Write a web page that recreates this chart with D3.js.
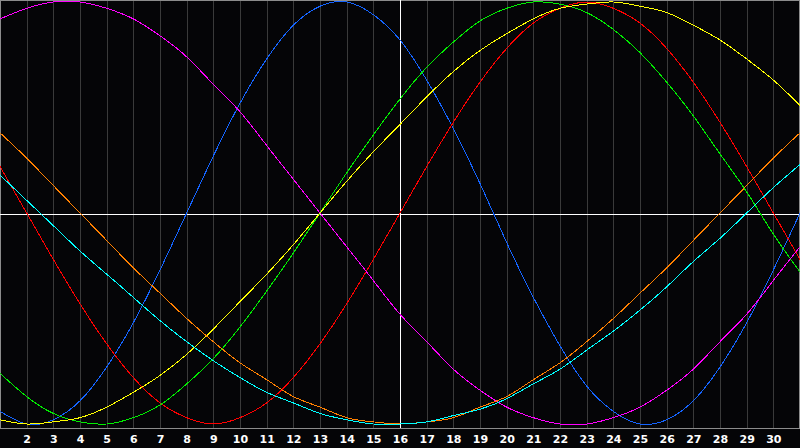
<!DOCTYPE html>
<html>
<head>
<meta charset="utf-8">
<script src="https://cdn.jsdelivr.net/npm/d3@7"></script>
<style>
  html, body { margin: 0; padding: 0; background: #050507; }
  #chart { display: block; }
  #chart text { font-family: "DejaVu Sans", sans-serif; font-weight: bold; font-size: 11px; fill: #ffffff; }
</style>
</head>
<body>
<svg id="chart"></svg>
<script>
const days = [1, 2, 3, 4, 5, 6, 7, 8, 9, 10, 11, 12, 13, 14, 15, 16, 17, 18, 19, 20, 21, 22, 23, 24, 25, 26, 27, 28, 29, 30, 31];
const tickDays = [2, 3, 4, 5, 6, 7, 8, 9, 10, 11, 12, 13, 14, 15, 16, 17, 18, 19, 20, 21, 22, 23, 24, 25, 26, 27, 28, 29, 30];
const today = 16;

// one value per day, -1 .. 1
const blueVals = [-0.94, -1.00, -0.98, -0.89, -0.73, -0.52, -0.27, 0, 0.27, 0.52, 0.73, 0.89, 0.98, 1.00, 0.94, 0.82, 0.63, 0.40, 0.14, -0.14, -0.40, -0.63, -0.82, -0.94, -1.00, -0.98, -0.89, -0.73, -0.52, -0.27, 0];
const redVals = [0.22, 0, -0.22, -0.43, -0.62, -0.78, -0.90, -0.97, -1.00, -0.97, -0.90, -0.78, -0.62, -0.43, -0.22, 0, 0.22, 0.43, 0.62, 0.78, 0.90, 0.97, 1.00, 0.97, 0.90, 0.78, 0.62, 0.43, 0.22, 0, -0.22];
const greenVals = [-0.76, -0.87, -0.95, -0.99, -1.00, -0.97, -0.91, -0.81, -0.69, -0.54, -0.37, -0.19, 0, 0.19, 0.37, 0.54, 0.69, 0.81, 0.91, 0.97, 1.00, 0.99, 0.95, 0.87, 0.76, 0.62, 0.46, 0.28, 0.10, -0.10, -0.28];
const magentaVals = [0.92, 0.97, 1.00, 1.00, 0.97, 0.92, 0.84, 0.74, 0.61, 0.48, 0.32, 0.16, 0, -0.16, -0.32, -0.48, -0.61, -0.74, -0.84, -0.92, -0.97, -1.00, -1.00, -0.97, -0.92, -0.84, -0.74, -0.61, -0.48, -0.32, -0.16];
const yellowVals = [-0.98, -1.00, -0.99, -0.97, -0.92, -0.85, -0.77, -0.67, -0.55, -0.42, -0.29, -0.15, 0, 0.15, 0.29, 0.42, 0.55, 0.67, 0.77, 0.85, 0.92, 0.97, 0.99, 1.00, 0.98, 0.95, 0.89, 0.82, 0.73, 0.63, 0.51];
const orangeVals = [0.38, 0.26, 0.13, 0, -0.13, -0.26, -0.38, -0.50, -0.61, -0.71, -0.79, -0.87, -0.92, -0.97, -0.99, -1.00, -0.99, -0.97, -0.92, -0.87, -0.79, -0.71, -0.61, -0.50, -0.38, -0.26, -0.13, 0, 0.13, 0.26, 0.38];
const cyanVals = [0.18, 0.06, -0.06, -0.18, -0.29, -0.40, -0.51, -0.61, -0.70, -0.78, -0.85, -0.90, -0.95, -0.98, -1.00, -1.00, -0.99, -0.96, -0.93, -0.88, -0.81, -0.74, -0.65, -0.56, -0.46, -0.35, -0.23, -0.12, 0, 0.12, 0.23];

const seriesNames = ["blue", "red", "green", "magenta", "yellow", "orange", "cyan"];
const seriesColors = ["#1464ff", "#ff0000", "#00ee00", "#ff00ff", "#ffff00", "#ff8000", "#00ffff"];
const seriesValues = [blueVals, redVals, greenVals, magentaVals, yellowVals, orangeVals, cyanVals];

const width = 800;
const height = 448;
const plotBottom = 428;

const svg = d3.select("#chart").attr("width", width).attr("height", height);

svg.append("rect")
  .attr("width", width)
  .attr("height", height)
  .attr("fill", "#050507");

const x = d3.scaleLinear().domain([1, 31]).range([0, width]);
const y = d3.scaleLinear().domain([-1, 1]).range([424, 2]);

// vertical day grid
svg.append("g")
  .attr("class", "grid")
  .attr("transform", "translate(0," + plotBottom + ")")
  .call(d3.axisBottom(x).tickValues(tickDays).tickSize(-plotBottom).tickFormat(""))
  .call((g) => g.select(".domain").remove())
  .call((g) => g.selectAll("line").attr("stroke", "#3a3a3a").attr("shape-rendering", "crispEdges"));

// frame
svg.append("rect")
  .attr("x", 0.5)
  .attr("y", 0.5)
  .attr("width", width - 1)
  .attr("height", plotBottom)
  .attr("fill", "none")
  .attr("stroke", "#8c8c8c")
  .attr("shape-rendering", "crispEdges");

// today + zero line
svg.append("line")
  .attr("x1", x(today)).attr("x2", x(today))
  .attr("y1", 0).attr("y2", plotBottom)
  .attr("stroke", "#ffffff")
  .attr("shape-rendering", "crispEdges");

svg.append("line")
  .attr("x1", 0).attr("x2", width)
  .attr("y1", y(0) + 1.5).attr("y2", y(0) + 1.5)
  .attr("stroke", "#ffffff")
  .attr("shape-rendering", "crispEdges");

const line = d3.line()
  .x((d, i) => x(days[i]))
  .y((d) => y(d))
  .curve(d3.curveNatural);

svg.selectAll(".cycle")
  .data(seriesValues)
  .enter()
  .append("path")
  .attr("class", (d, i) => "cycle " + seriesNames[i])
  .attr("d", line)
  .attr("fill", "none")
  .attr("stroke", (d, i) => seriesColors[i])
  .attr("stroke-width", 1)
  .attr("shape-rendering", "crispEdges");

// day labels
const xAxis = svg.append("g")
  .attr("transform", "translate(0," + plotBottom + ")")
  .call(d3.axisBottom(x).tickValues(tickDays).tickSize(0).tickPadding(7).tickFormat(d3.format("d")));

xAxis.select(".domain").attr("stroke", "#8c8c8c").attr("shape-rendering", "crispEdges");
xAxis.selectAll("text")
  .attr("font-family", "DejaVu Sans, sans-serif")
  .attr("font-weight", "bold")
  .attr("font-size", 11)
  .attr("fill", "#ffffff");
</script>
</body>
</html>
